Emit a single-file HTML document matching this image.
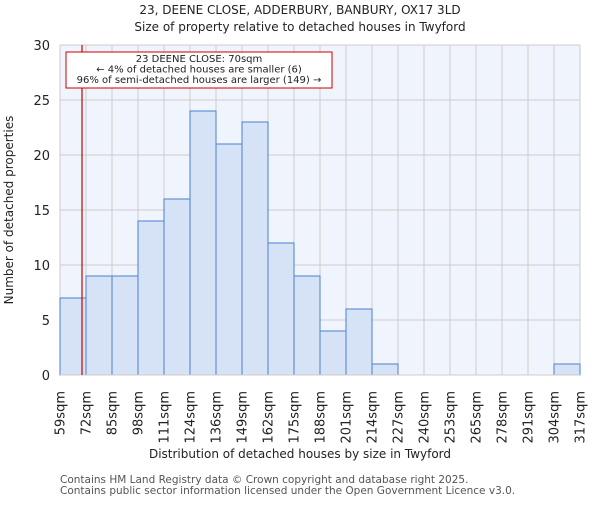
<!DOCTYPE html>
<html><head><meta charset="utf-8"><style>
body{margin:0;background:#fff}
svg text{font-family:"DejaVu Sans","Liberation Sans",sans-serif;fill:#222}
</style></head><body>
<svg width="600" height="500" id="c">
<text x="300" y="14" text-anchor="middle" font-size="12">23, DEENE CLOSE, ADDERBURY, BANBURY, OX17 3LD</text>
<text x="300" y="31" text-anchor="middle" font-size="12">Size of property relative to detached houses in Twyford</text>
<rect x="60" y="45" width="520" height="330" fill="#f0f4fc"/>
<g id="grid"></g><g id="bars"></g><g id="ticks"></g>
<text x="300" y="458" text-anchor="middle" font-size="12">Distribution of detached houses by size in Twyford</text>
<text transform="translate(13,210) rotate(-90)" text-anchor="middle" font-size="12">Number of detached properties</text>
<text x="60" y="483" font-size="10.5" style="fill:#555">Contains HM Land Registry data © Crown copyright and database right 2025.</text>
<text x="60" y="494" font-size="10.5" style="fill:#555">Contains public sector information licensed under the Open Government Licence v3.0.</text>
</svg>
<script>
const binLabels=["59sqm","72sqm","85sqm","98sqm","111sqm","124sqm","136sqm","149sqm","162sqm","175sqm","188sqm","201sqm","214sqm","227sqm","240sqm","253sqm","265sqm","278sqm","291sqm","304sqm","317sqm"];
const counts=[7,9,9,14,16,24,21,23,12,9,4,6,1,0,0,0,0,0,0,1];
const yTicks=[0,5,10,15,20,25,30];
const propertySize=70;
const ns="http://www.w3.org/2000/svg";
const X0=60,X1=580,Y0=375,Y1=45,YMAX=30,binMin=59,binW=13;
const bw=(X1-X0)/counts.length;
const x=i=>X0+i*bw, y=v=>Y0-(v/YMAX)*(Y0-Y1);
const xv=v=>X0+(v-binMin)/binW*bw;
function mk(t,a,p){const e=document.createElementNS(ns,t);for(const k in a)e.setAttribute(k,a[k]);p.appendChild(e);return e;}
const g=document.getElementById('grid'),b=document.getElementById('bars'),tk=document.getElementById('ticks');
yTicks.forEach(v=>{const l=mk('line',{x1:X0,x2:X1,y1:y(v),y2:y(v),stroke:'#ccc'},g);


const t=mk('text',{x:X0-10,y:y(v)+5,'text-anchor':'end','font-size':13},tk);t.textContent=v;

});
binLabels.forEach((s,i)=>{const l=mk('line',{x1:x(i),x2:x(i),y1:Y1,y2:Y0,stroke:'#ccc'},g);


const t=mk('text',{transform:`translate(${x(i)+4.5},391) rotate(-90)`,'text-anchor':'end','font-size':13},tk);t.textContent=s;

});
counts.forEach((c,i)=>{if(c<=0)return;const r=mk('rect',{x:x(i),y:y(c),width:bw,height:Y0-y(c),fill:'#d6e2f5',stroke:'#4a80d0','stroke-width':1},b);

});
const ax=mk('line',{x1:X0,x2:X1,y1:Y0,y2:Y0,stroke:'#ccc'},b);


const rl=mk('line',{x1:xv(propertySize),x2:xv(propertySize),y1:Y1,y2:Y0,stroke:'#cc0000','stroke-width':1.2},b);


const bx=mk('rect',{x:66,y:52,width:266,height:36,fill:'#fff',stroke:'#cc0000'},b);


["23 DEENE CLOSE: 70sqm","← 4% of detached houses are smaller (6)","96% of semi-detached houses are larger (149) →"].forEach((s,i)=>{const t=mk('text',{x:199,y:62+i*10.5,'text-anchor':'middle','font-size':10},b);t.textContent=s;

});
</script>
</body></html>
